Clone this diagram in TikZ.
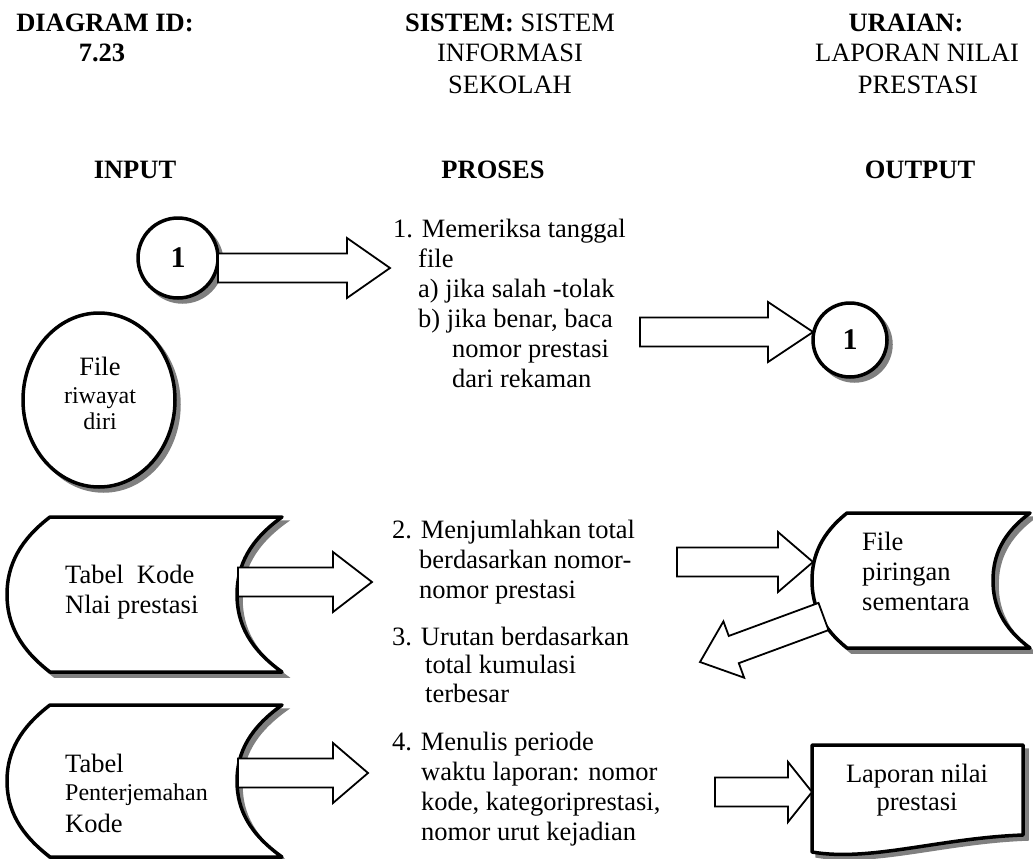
\documentclass[tikz,border=0pt]{standalone}
\usepackage{fontspec}
\setmainfont{Liberation Serif}
\usetikzlibrary{calc,shadows}

% hollow block arrow: #1 tail coordinate, #2 tip coordinate, #3 head length
\newcommand\blockarrow[3]{%
  \coordinate (ba-h) at ($(#2)!#3!(#1)$);
  \draw[blockarr] ($(#1)!14.5pt!90:(#2)$)
    -- ($(ba-h)!14.5pt!-90:(#1)$)
    -- ($(ba-h)!30pt!-90:(#1)$)
    -- (#2)
    -- ($(ba-h)!30pt!90:(#1)$)
    -- ($(ba-h)!14.5pt!90:(#1)$)
    -- ($(#1)!14.5pt!-90:(#2)$) -- cycle;}

\tikzset{
  bodyfont/.style={font=\fontsize{26.5}{30}\selectfont},
  txt/.style={bodyfont, inner sep=0pt, anchor=base west},
  ctxt/.style={bodyfont, inner sep=0pt, anchor=base},
  btxt/.style={ctxt, font=\fontsize{26.5}{30}\selectfont\bfseries},
  smalltxt/.style={font=\fontsize{24}{28}\selectfont},
  outline/.style={draw=black, line width=3.5pt, fill=white, line join=round,
    drop shadow={shadow xshift=4.5pt, shadow yshift=-4.5pt, opacity=1,
                 fill=black!50, draw=black!50, line width=2.5pt}},
  connector/.style={outline, circle, inner sep=0pt,
    font=\fontsize{30}{30}\selectfont\bfseries},
  blockarr/.style={draw=black, line width=1.8pt, fill=white,
    line join=miter, miter limit=10},
}

\begin{document}
\begin{tikzpicture}[x=1pt,y=-1pt]
\useasboundingbox (0,0) rectangle (1033,859);
\fill[white] (0,0) rectangle (1033,859);

% ---- header ----
\node[btxt] (hid) at (105,32) {DIAGRAM ID:};
\node[btxt] (hidv) at (102,62) {7.23};
\node[ctxt] (hsys) at (510,32) {\textbf{SISTEM:} SISTEM};
\node[ctxt] (hsys2) at (510,62) {INFORMASI};
\node[ctxt] (hsys3) at (510,93) {SEKOLAH};
\node[btxt] (hur) at (906,32) {URAIAN:};
\node[ctxt] (hur2) at (917,62) {LAPORAN NILAI};
\node[ctxt] (hur3) at (918,93) {PRESTASI};

\node[btxt] (colin) at (135,178) {INPUT};
\node[btxt] (colpr) at (493,178) {PROSES};
\node[btxt] (colout) at (920,178) {OUTPUT};

% ---- input side ----
\node[connector, minimum size=80pt] (src) at (178,258) {1};

\draw[outline] (99,400) ellipse [x radius=76, y radius=87];
\node[txt, anchor=base] (rw1) at (100,375) {File};
\node[txt, smalltxt, anchor=base] (rw2) at (100,403) {riwayat};
\node[txt, smalltxt, anchor=base] (rw3) at (100,429) {diri};

% stored data: code table
\draw[outline] (50,517) -- (282,517)
  .. controls (250,540) and (237,565) .. (237,594.5)
  .. controls (237,624) and (250,649) .. (282,672)
  -- (50,672)
  .. controls (20,649) and (7,624) .. (7,594.5)
  .. controls (7,565) and (20,540) .. (50,517) -- cycle;
\node[txt] (tk1) at (65,583) {Tabel\ \ Kode};
\node[txt] (tk2) at (65,613) {Nlai prestasi};

% stored data: translation table
\draw[outline] (50,705) -- (282,705)
  .. controls (250,728) and (237,752) .. (237,781)
  .. controls (237,810) and (250,834) .. (282,857)
  -- (50,857)
  .. controls (20,834) and (7,810) .. (7,781)
  .. controls (7,752) and (20,728) .. (50,705) -- cycle;
\node[txt] (tp1) at (65,772) {Tabel};
\node[txt, smalltxt] (tp2) at (65,800) {Penterjemahan};
\node[txt] (tp3) at (65,832) {Kode};

% ---- process steps ----
\node[txt] (p1a) at (393,237) {1. Memeriksa tanggal};
\node[txt] (p1b) at (418,267) {file};
\node[txt] (p1c) at (418,297) {a) jika salah -tolak};
\node[txt] (p1d) at (418,327) {b) jika benar, baca};
\node[txt] (p1e) at (452,357) {nomor prestasi};
\node[txt] (p1f) at (452,387) {dari rekaman};

\node[txt] (p2a) at (392,538) {2. Menjumlahkan total};
\node[txt] (p2b) at (419,568) {berdasarkan nomor-};
\node[txt] (p2c) at (419,598) {nomor prestasi};

\node[txt] (p3a) at (392,645) {3. Urutan berdasarkan};
\node[txt] (p3b) at (425,673) {total kumulasi};
\node[txt] (p3c) at (425,702) {terbesar};

\node[txt] (p4a) at (392,750) {4. Menulis periode};
\node[txt] (p4b) at (421,780) {waktu laporan: nomor};
\node[txt] (p4c) at (421,810) {kode, kategoriprestasi,};
\node[txt] (p4d) at (421,840) {nomor urut kejadian};

% ---- output side ----
\node[connector, minimum size=74pt] (dst) at (850,340) {1};

% stored data: temporary disk file
\draw[outline] (847,513) -- (1030,513)
  .. controls (1003,533) and (993,555) .. (993,580.5)
  .. controls (993,606) and (1003,628) .. (1030,648)
  -- (847,648)
  .. controls (822,628) and (812,606) .. (812,580.5)
  .. controls (812,555) and (822,533) .. (847,513) -- cycle;
\node[txt] (fp1) at (862,550) {File};
\node[txt] (fp2) at (862,580) {piringan};
\node[txt] (fp3) at (862,610) {sementara};

% document: report
\draw[outline] (812,745) -- (1023,745) -- (1023,835)
  .. controls (940,838) and (870,862) .. (812,852) -- cycle;
\node[ctxt] (rp1) at (917,782) {Laporan nilai};
\node[ctxt] (rp2) at (917,810) {prestasi};

% ---- flow arrows ----
\coordinate (a1s) at (218,268);   \coordinate (a1e) at (390,268);
\coordinate (a2s) at (640,332);   \coordinate (a2e) at (813,332);
\coordinate (a3s) at (238,582);   \coordinate (a3e) at (372,582);
\coordinate (a4s) at (238,773);   \coordinate (a4e) at (368,773);
\coordinate (a5s) at (677,562);   \coordinate (a5e) at (813,562);
\coordinate (a6s) at (823.5,616.5); \coordinate (a6e) at (700,662);
\coordinate (a7s) at (715,792);   \coordinate (a7e) at (812,792);

\blockarrow{a1s}{a1e}{43pt}
\blockarrow{a2s}{a2e}{45pt}
\blockarrow{a3s}{a3e}{39pt}
\blockarrow{a4s}{a4e}{35pt}
\blockarrow{a5s}{a5e}{35pt}
\blockarrow{a6s}{a6e}{36pt}
\blockarrow{a7s}{a7e}{24pt}
\end{tikzpicture}
\end{document}
